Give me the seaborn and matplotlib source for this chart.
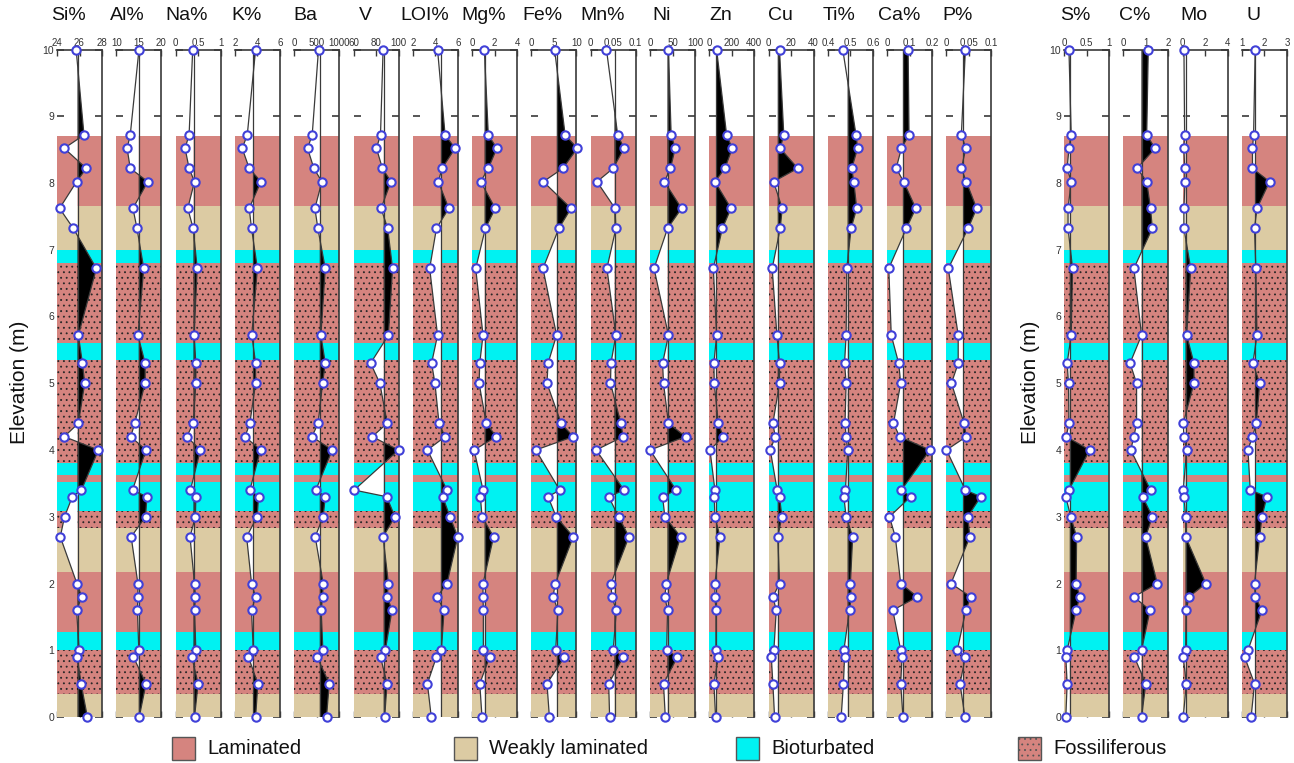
import numpy as np
import matplotlib.pyplot as plt
from matplotlib.patches import Rectangle
import seaborn as sns

# sample elevations (m), top of section first
elev = [10.0, 8.72, 8.52, 8.22, 8.02, 7.62, 7.32, 6.72, 5.72, 5.3, 5.0, 4.4, 4.2,
        4.0, 3.4, 3.3, 3.0, 2.7, 2.0, 1.8, 1.6, 1.0, 0.9, 0.5, 0.0]

si = [25.7, 26.4, 24.64, 26.6, 25.74, 24.23, 25.45, 27.5, 25.9, 26.26, 26.46, 25.9, 24.64,
      27.68, 26.17, 25.36, 24.67, 24.29, 25.77, 26.2, 25.74, 25.97, 25.8, 26.14, 26.7]
al = [15.04, 13.1, 12.4, 13.1, 17.0, 13.7, 14.6, 16.1, 14.8, 16.4, 16.4, 14.1, 13.2,
      16.6, 13.6, 16.8, 16.5, 13.3, 14.8, 14.8, 14.7, 15.0, 13.8, 16.6, 15.1]
na = [0.38, 0.30, 0.21, 0.30, 0.42, 0.27, 0.39, 0.48, 0.41, 0.45, 0.45, 0.39, 0.25,
      0.55, 0.33, 0.45, 0.44, 0.32, 0.42, 0.44, 0.42, 0.45, 0.36, 0.50, 0.42]
k = [3.84, 3.1, 2.65, 3.27, 4.31, 3.27, 3.48, 4.0, 3.5, 3.84, 3.84, 3.33, 2.9,
     4.28, 3.33, 4.1, 3.98, 3.04, 3.48, 3.84, 3.48, 3.63, 3.2, 4.04, 3.84]
ba = [540, 400, 296, 437, 615, 460, 526, 690, 593, 690, 630, 533, 393,
      845, 481, 690, 644, 467, 644, 630, 600, 637, 511, 778, 718]
v = [86.3, 84.0, 80.4, 85.7, 93.3, 84.5, 90.4, 94.7, 91.0, 75.2, 83.4, 90.0, 76.6,
     100.0, 60.6, 89.5, 96.8, 86.3, 91.0, 90.0, 94.2, 88.3, 84.0, 89.8, 87.7]
loi = [4.2, 4.87, 5.76, 4.6, 4.27, 5.2, 4.1, 3.5, 4.2, 3.67, 3.97, 4.33, 4.87,
       3.3, 5.04, 4.66, 5.3, 6.0, 5.04, 4.15, 4.78, 4.54, 4.1, 3.3, 3.64]
mg = [1.09, 1.44, 2.2, 1.44, 0.76, 2.06, 1.18, 0.32, 0.97, 0.68, 0.62, 1.26, 2.15,
      0.18, 0.97, 0.74, 0.88, 1.91, 0.97, 0.97, 1.0, 1.0, 1.56, 0.68, 0.88]
fe = [5.15, 7.5, 10.2, 7.0, 2.65, 8.8, 6.1, 2.57, 5.6, 3.7, 3.46, 6.6, 9.3,
      0.96, 6.3, 3.7, 5.5, 9.3, 5.3, 4.8, 5.9, 5.4, 7.35, 3.46, 4.0]
mn = [0.035, 0.06, 0.074, 0.05, 0.014, 0.054, 0.056, 0.036, 0.056, 0.045, 0.044, 0.067, 0.072,
      0.012, 0.074, 0.04, 0.062, 0.085, 0.045, 0.047, 0.057, 0.05, 0.072, 0.04, 0.042]
ni = [41, 47, 56, 45.5, 32, 70, 39, 9, 41, 28, 30, 41, 79,
      0, 58, 28, 33, 68, 36, 33, 39, 37, 61, 30, 34]
zn = [65, 154, 204, 139, 50, 193, 116, 36, 65, 41, 44, 80, 124,
      6, 50, 44, 50, 95, 50, 50, 59, 59, 80, 41, 56]
cu = [9.7, 13.5, 10.3, 25.9, 4.4, 12.1, 10.3, 3.2, 7.4, 9.7, 9.7, 3.8, 5.9,
      1.5, 7.6, 9.7, 11.8, 8.2, 9.7, 3.8, 6.8, 4.7, 2.4, 3.8, 5.3]
ti = [0.466, 0.525, 0.532, 0.506, 0.515, 0.528, 0.503, 0.484, 0.481, 0.474, 0.481, 0.476, 0.481,
      0.488, 0.478, 0.471, 0.481, 0.51, 0.5, 0.504, 0.496, 0.471, 0.474, 0.469, 0.459]
ca = [0.093, 0.097, 0.063, 0.04, 0.073, 0.127, 0.085, 0.007, 0.018, 0.051, 0.06, 0.028, 0.055,
      0.19, 0.063, 0.104, 0.01, 0.036, 0.06, 0.134, 0.025, 0.06, 0.066, 0.06, 0.07]
p = [0.042, 0.033, 0.043, 0.033, 0.044, 0.067, 0.048, 0.004, 0.026, 0.026, 0.011, 0.039, 0.044,
     0.0, 0.042, 0.076, 0.047, 0.052, 0.01, 0.054, 0.043, 0.024, 0.042, 0.03, 0.041]
s = [0.11, 0.16, 0.11, 0.07, 0.16, 0.09, 0.09, 0.19, 0.16, 0.07, 0.10, 0.11, 0.05,
     0.57, 0.11, 0.04, 0.15, 0.28, 0.27, 0.35, 0.27, 0.07, 0.04, 0.07, 0.04]
c = [1.11, 1.04, 1.41, 0.62, 1.04, 1.21, 1.29, 0.47, 0.81, 0.30, 0.59, 0.59, 0.47,
     0.33, 1.21, 0.86, 1.29, 0.99, 1.51, 0.47, 1.19, 0.81, 0.49, 1.0, 0.81]
mo = [0.12, 0.18, 0.12, 0.18, 0.21, 0.12, 0.12, 0.72, 0.36, 1.01, 1.01, 0.06, 0.12,
      0.36, 0.06, 0.12, 0.27, 0.27, 2.06, 0.57, 0.33, 0.27, 0.06, 0.33, 0.06]
u = [1.59, 1.52, 1.47, 1.47, 2.23, 1.67, 1.56, 1.62, 1.67, 1.49, 1.79, 1.64, 1.47,
     1.27, 1.37, 2.11, 1.89, 1.79, 1.56, 1.59, 1.89, 1.27, 1.12, 1.56, 1.41]

# (title, values, reference line, x tick labels)
left_panels = [
    ("Si%", si, 25.83, ["24", "26", "28"]),
    ("Al%", al, 15.0, ["10", "15", "20"]),
    ("Na%", na, 0.40, ["0", "0.5", "1"]),
    ("K%", k, 3.63, ["2", "4", "6"]),
    ("Ba", ba, 570, ["0", "500", "1000"]),
    ("V", v, 86.9, ["60", "80", "100"]),
    ("LOI%", loi, 4.5, ["2", "4", "6"]),
    ("Mg%", mg, 1.12, ["0", "2", "4"]),
    ("Fe%", fe, 5.66, ["0", "5", "10"]),
    ("Mn%", mn, 0.053, ["0", "0.05", "0.1"]),
    ("Ni", ni, 39, ["0", "50", "100"]),
    ("Zn", zn, 60, ["0", "200", "400"]),
    ("Cu", cu, 8.2, ["0", "20", "40"]),
    ("Ti%", ti, 0.488, ["0.4", "0.5", "0.6"]),
    ("Ca%", ca, 0.07, ["0", "0.1", "0.2"]),
    ("P%", p, 0.037, ["0", "0.05", "0.1"]),
]
right_panels = [
    ("S%", s, 0.13, ["0", "0.5", "1"]),
    ("C%", c, 0.81, ["0", "1", "2"]),
    ("Mo", mo, 0.27, ["0", "2", "4"]),
    ("U", u, 1.59, ["1", "2", "3"]),
]

# facies column
facies_bottom = [0.0, 0.34, 1.0, 1.27, 2.17, 2.83, 3.09, 3.52, 3.63, 3.81, 5.35, 5.6, 6.8, 7.0, 7.65]
facies_top = [0.34, 1.0, 1.27, 2.17, 2.83, 3.09, 3.52, 3.63, 3.81, 5.35, 5.6, 6.8, 7.0, 7.65, 8.7]
facies_type = ["Weakly laminated", "Fossiliferous", "Bioturbated", "Laminated", "Weakly laminated",
               "Fossiliferous", "Bioturbated", "Laminated", "Bioturbated", "Fossiliferous",
               "Bioturbated", "Fossiliferous", "Bioturbated", "Weakly laminated", "Laminated"]
facies_names = ["Laminated", "Weakly laminated", "Bioturbated", "Fossiliferous"]

PINK = "#d5847f"
FACIES_STYLE = {
    "Laminated": dict(facecolor=PINK),
    "Weakly laminated": dict(facecolor="#dccba3"),
    "Bioturbated": dict(facecolor="#00f2f2"),
    "Fossiliferous": dict(facecolor=PINK, hatch="...", edgecolor="#262626"),
}
LINE = "#3a3a3a"
MARKER_EDGE = "#4040d8"

sns.set_style("white")
plt.rcParams["font.family"] = ["Liberation Sans", "DejaVu Sans"]
plt.rcParams["hatch.linewidth"] = 0.6

W, H = 1294, 763
fig = plt.figure(figsize=(W / 100, H / 100), dpi=100)

TOP_PX, BOT_PX = 49.5, 717
PANEL_W, STEP = 45, 59.3


def draw_panel(left_px, title, vals, ref, ticks, first):
    ax = fig.add_axes([left_px / W, 1 - BOT_PX / H, PANEL_W / W, (BOT_PX - TOP_PX) / H])
    vals = np.asarray(vals, dtype=float)
    y = np.asarray(elev)
    lo, hi = float(ticks[0]), float(ticks[2])

    for b, t, f in zip(facies_bottom, facies_top, facies_type):
        ax.axhspan(b, t, lw=0, zorder=1, **FACIES_STYLE[f])

    ax.fill_betweenx(y, vals, ref, where=vals >= ref, interpolate=True,
                     color="black", lw=0, zorder=2)
    ax.fill_betweenx(y, vals, ref, where=vals <= ref, interpolate=True,
                     color="white", lw=0, zorder=2)
    ax.axvline(ref, color=LINE, lw=0.9, zorder=3)
    sns.lineplot(x=vals, y=y, orient="y", sort=False, estimator=None, ax=ax,
                 color=LINE, lw=0.9, marker="o", markersize=6,
                 markerfacecolor="white", markeredgecolor=MARKER_EDGE,
                 markeredgewidth=1.5, zorder=4, clip_on=False)

    ax.set_xlim(lo, hi)
    ax.set_ylim(0, 10)
    ax.set_axisbelow(True)
    ax.xaxis.tick_top()
    ax.set_xticks([lo, (lo + hi) / 2, hi])
    ax.set_xticklabels(ticks)
    ax.tick_params(axis="x", direction="in", length=4, width=1, color=LINE,
                   top=True, bottom=True, labelsize=7, pad=1, labelcolor="#333333")
    ax.set_yticks(range(0, 11))
    ax.tick_params(axis="y", direction="in", length=5, width=1.2, color=LINE,
                   left=True, right=True, labelleft=first, labelsize=7.5, pad=2,
                   labelcolor="#333333")
    ax.set_xlabel("")
    ax.set_ylabel("")
    for side in ("left", "bottom"):
        ax.spines[side].set_visible(False)
    for side in ("top", "right"):
        ax.spines[side].set_color(LINE)
        ax.spines[side].set_linewidth(1.2)

    fig.text((left_px + PANEL_W / 2 - 11) / W, 1 - 15 / H, title,
             ha="center", va="center", fontsize=14, color="#111111")
    return ax


for i, (title, vals, ref, ticks) in enumerate(left_panels):
    draw_panel(57 + STEP * i, title, vals, ref, ticks, i == 0)
for j, (title, vals, ref, ticks) in enumerate(right_panels):
    draw_panel(1064 + STEP * j, title, vals, ref, ticks, j == 0)

for x_px in (20, 1030):
    fig.text(x_px / W, 1 - 382 / H, "Elevation (m)", rotation=90,
             ha="center", va="center", fontsize=15, color="#111111")

# legend
for i, name in enumerate(facies_names):
    x0 = 172 + 282 * i
    fig.add_artist(Rectangle((x0 / W, 1 - 760 / H), 23 / W, 23 / H,
                             transform=fig.transFigure, lw=1, edgecolor="#555555",
                             **{kk: vv for kk, vv in FACIES_STYLE[name].items() if kk != "edgecolor"}))
    fig.text((x0 + 35) / W, 1 - 748 / H, name, ha="left", va="center",
             fontsize=14.5, color="#111111")

fig.savefig("out.png", dpi=100)
